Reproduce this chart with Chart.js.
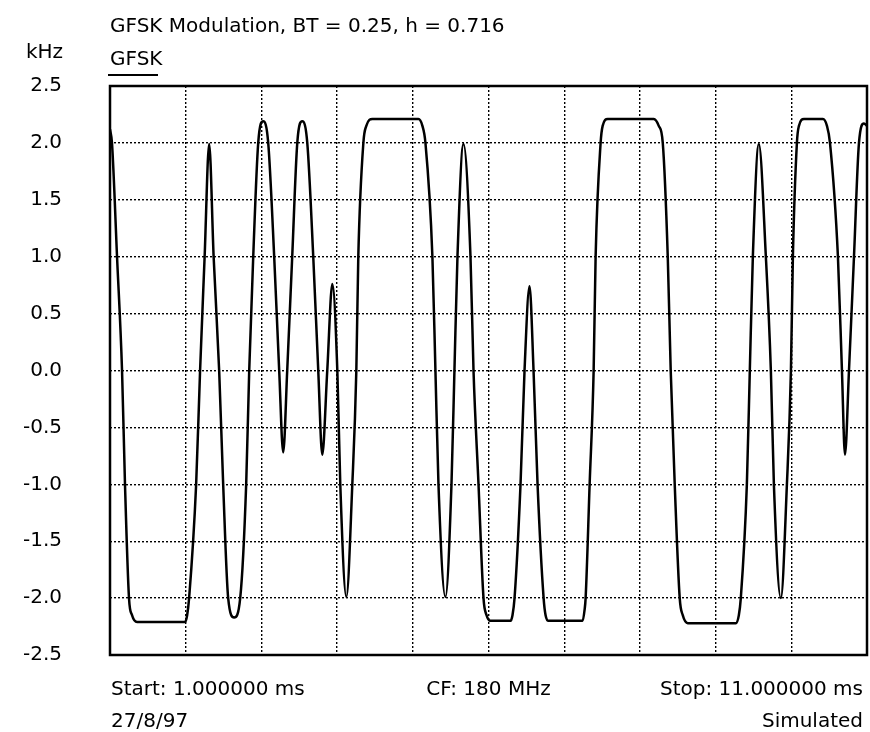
<!DOCTYPE html>
<html>
<head>
<meta charset="utf-8">
<title>GFSK Modulation</title>
<script src="https://cdn.jsdelivr.net/npm/chart.js@4/dist/chart.umd.min.js"></script>
<style>
  html, body { margin: 0; padding: 0; background: #fff; }
  #wrap { width: 870px; height: 732px; position: relative; }
</style>
</head>
<body>
<div id="wrap"><canvas id="gfskChart"></canvas></div>
<script>
// Values (time in ms, deviation in kHz)
const timeMs = [
  1.000, 1.026, 1.093, 1.159, 1.198, 1.251, 1.291, 1.357,
  1.992, 2.019, 2.045, 2.138, 2.190, 2.250, 2.310, 2.369, 2.442, 2.495, 2.561,
  2.640, 2.720, 2.799, 2.839, 2.892, 2.958, 3.024, 3.090, 3.169, 3.235,
  3.288, 3.341, 3.407, 3.474, 3.540, 3.606, 3.685, 3.751,
  3.804, 3.870, 3.937, 4.003, 4.042, 4.122, 4.201, 4.254, 4.280, 4.347, 4.386, 4.466,
  5.074, 5.127, 5.167, 5.259, 5.299, 5.339, 5.431, 5.511, 5.550, 5.590, 5.669,
  5.762, 5.802, 5.868, 5.934, 5.974, 6.026,
  6.291, 6.317, 6.344, 6.423, 6.476, 6.542, 6.595, 6.648, 6.728, 6.754, 6.794,
  7.243, 7.270, 7.283, 7.336, 7.389, 7.415, 7.481, 7.508, 7.574,
  8.183, 8.249, 8.302, 8.368, 8.407, 8.460, 8.526, 8.566, 8.632,
  9.267, 9.307, 9.333, 9.413, 9.452, 9.492, 9.571, 9.664, 9.730, 9.770, 9.862,
  9.942, 9.995, 10.021, 10.074, 10.101, 10.167,
  10.418, 10.471, 10.511, 10.616, 10.669, 10.709, 10.762, 10.828, 10.894, 10.960, 11.000
];
const freqKHz = [
  2.12, 2.0, 1.0, 0.0, -1.0, -2.0, -2.15, -2.21,
  -2.21, -2.15, -2.0, -1.0, 0.0, 1.0, 1.99, 1.0, 0.0, -1.0, -2.0,
  -2.17, -2.0, -1.0, 0.0, 1.0, 2.0, 2.19, 2.0, 1.0, 0.0,
  -0.72, 0.0, 1.0, 2.0, 2.19, 2.0, 1.0, 0.0,
  -0.74, 0.0, 0.76, 0.0, -1.0, -1.99, -1.0, 0.0, 1.0, 2.0, 2.15, 2.21,
  2.21, 2.15, 2.0, 1.0, 0.0, -1.0, -1.99, -1.0, 0.0, 1.0, 1.99,
  1.0, 0.0, -1.0, -2.0, -2.15, -2.2,
  -2.2, -2.15, -2.0, -1.0, 0.0, 0.74, 0.0, -1.0, -2.0, -2.15, -2.2,
  -2.2, -2.1, -2.0, -1.0, 0.0, 1.0, 2.0, 2.15, 2.21,
  2.21, 2.15, 2.0, 1.0, 0.0, -1.0, -2.0, -2.15, -2.22,
  -2.22, -2.15, -2.0, -1.0, 0.0, 1.0, 1.99, 1.0, 0.0, -1.0, -2.0,
  -1.0, 0.0, 1.0, 2.0, 2.15, 2.21,
  2.21, 2.15, 2.0, 1.0, 0.0, -0.74, 0.0, 1.0, 2.0, 2.17, 2.15
];

// axis ranges and grid steps
const xRange = [1, 11];
const xStep = 1;
const yRange = [-2.5, 2.5];
const yStep = 0.5;

const titleText = 'GFSK Modulation, BT = 0.25, h = 0.716';
const unitText = 'kHz';
const traceName = 'GFSK';
const footerRow1 = ['Start: 1.000000 ms', 'CF: 180 MHz', 'Stop: 11.000000 ms'];
const footerRow2 = ['27/8/97', 'Simulated'];

const FONT = '20px "DejaVu Sans", sans-serif';

const points = timeMs.map((t, i) => ({ x: t, y: freqKHz[i] }));

// frame + all the loose text around the plot
const decorations = {
  id: 'decorations',
  afterDatasetsDraw(chart) {
    const ctx = chart.ctx;
    const a = chart.chartArea;
    ctx.save();
    ctx.strokeStyle = '#000';
    ctx.lineWidth = 2.5;
    ctx.setLineDash([]);
    ctx.strokeRect(a.left, a.top, a.right - a.left, a.bottom - a.top);

    ctx.fillStyle = '#000';
    ctx.font = FONT;
    ctx.textBaseline = 'alphabetic';

    ctx.textAlign = 'left';
    ctx.fillText(titleText, a.left, 32);
    ctx.fillText(traceName, a.left, 65);
    ctx.fillText(footerRow1[0], a.left + 1, 695);
    ctx.fillText(footerRow2[0], a.left + 1, 727);

    ctx.textAlign = 'right';
    ctx.fillText(unitText, 63, 58);
    ctx.fillText(footerRow1[2], a.right - 4, 695);
    ctx.fillText(footerRow2[1], a.right - 4, 727);

    ctx.textAlign = 'center';
    ctx.fillText(footerRow1[1], (a.left + a.right) / 2, 695);

    // legend underline
    ctx.lineWidth = 2;
    ctx.beginPath();
    ctx.moveTo(a.left - 2, 75);
    ctx.lineTo(a.left + 48, 75);
    ctx.stroke();
    ctx.restore();
  }
};

// dotted grid (in v4 the dash of grid lines lives under border.dash)
const gridStyle = {
  color: '#000',
  lineWidth: 1.4,
  drawTicks: false
};
const borderStyle = { display: false, dash: [2, 2] };

const ctx = document.getElementById('gfskChart').getContext('2d');
new Chart(ctx, {
  type: 'line',
  data: {
    datasets: [{
      label: traceName,
      data: points,
      borderColor: '#000',
      borderWidth: 2.5,
      pointRadius: 0,
      cubicInterpolationMode: 'monotone',
      fill: false
    }]
  },
  options: {
    responsive: true,
    maintainAspectRatio: false,
    animation: false,
    events: [],
    layout: { padding: { left: 0, top: 86, right: 3, bottom: 77 } },
    plugins: {
      legend: { display: false },
      title: { display: false },
      tooltip: { enabled: false }
    },
    scales: {
      x: {
        type: 'linear',
        min: xRange[0],
        max: xRange[1],
        ticks: { display: false, stepSize: xStep },
        grid: gridStyle,
        border: borderStyle,
        afterFit(scale) { scale.height = 0; }
      },
      y: {
        min: yRange[0],
        max: yRange[1],
        ticks: {
          stepSize: yStep,
          padding: 48,
          color: '#000',
          font: { family: '"DejaVu Sans", sans-serif', size: 20 },
          callback: v => v.toFixed(1)
        },
        grid: gridStyle,
        border: borderStyle,
        afterFit(scale) { scale.width = 110; }
      }
    }
  },
  plugins: [decorations]
});
</script>
</body>
</html>
